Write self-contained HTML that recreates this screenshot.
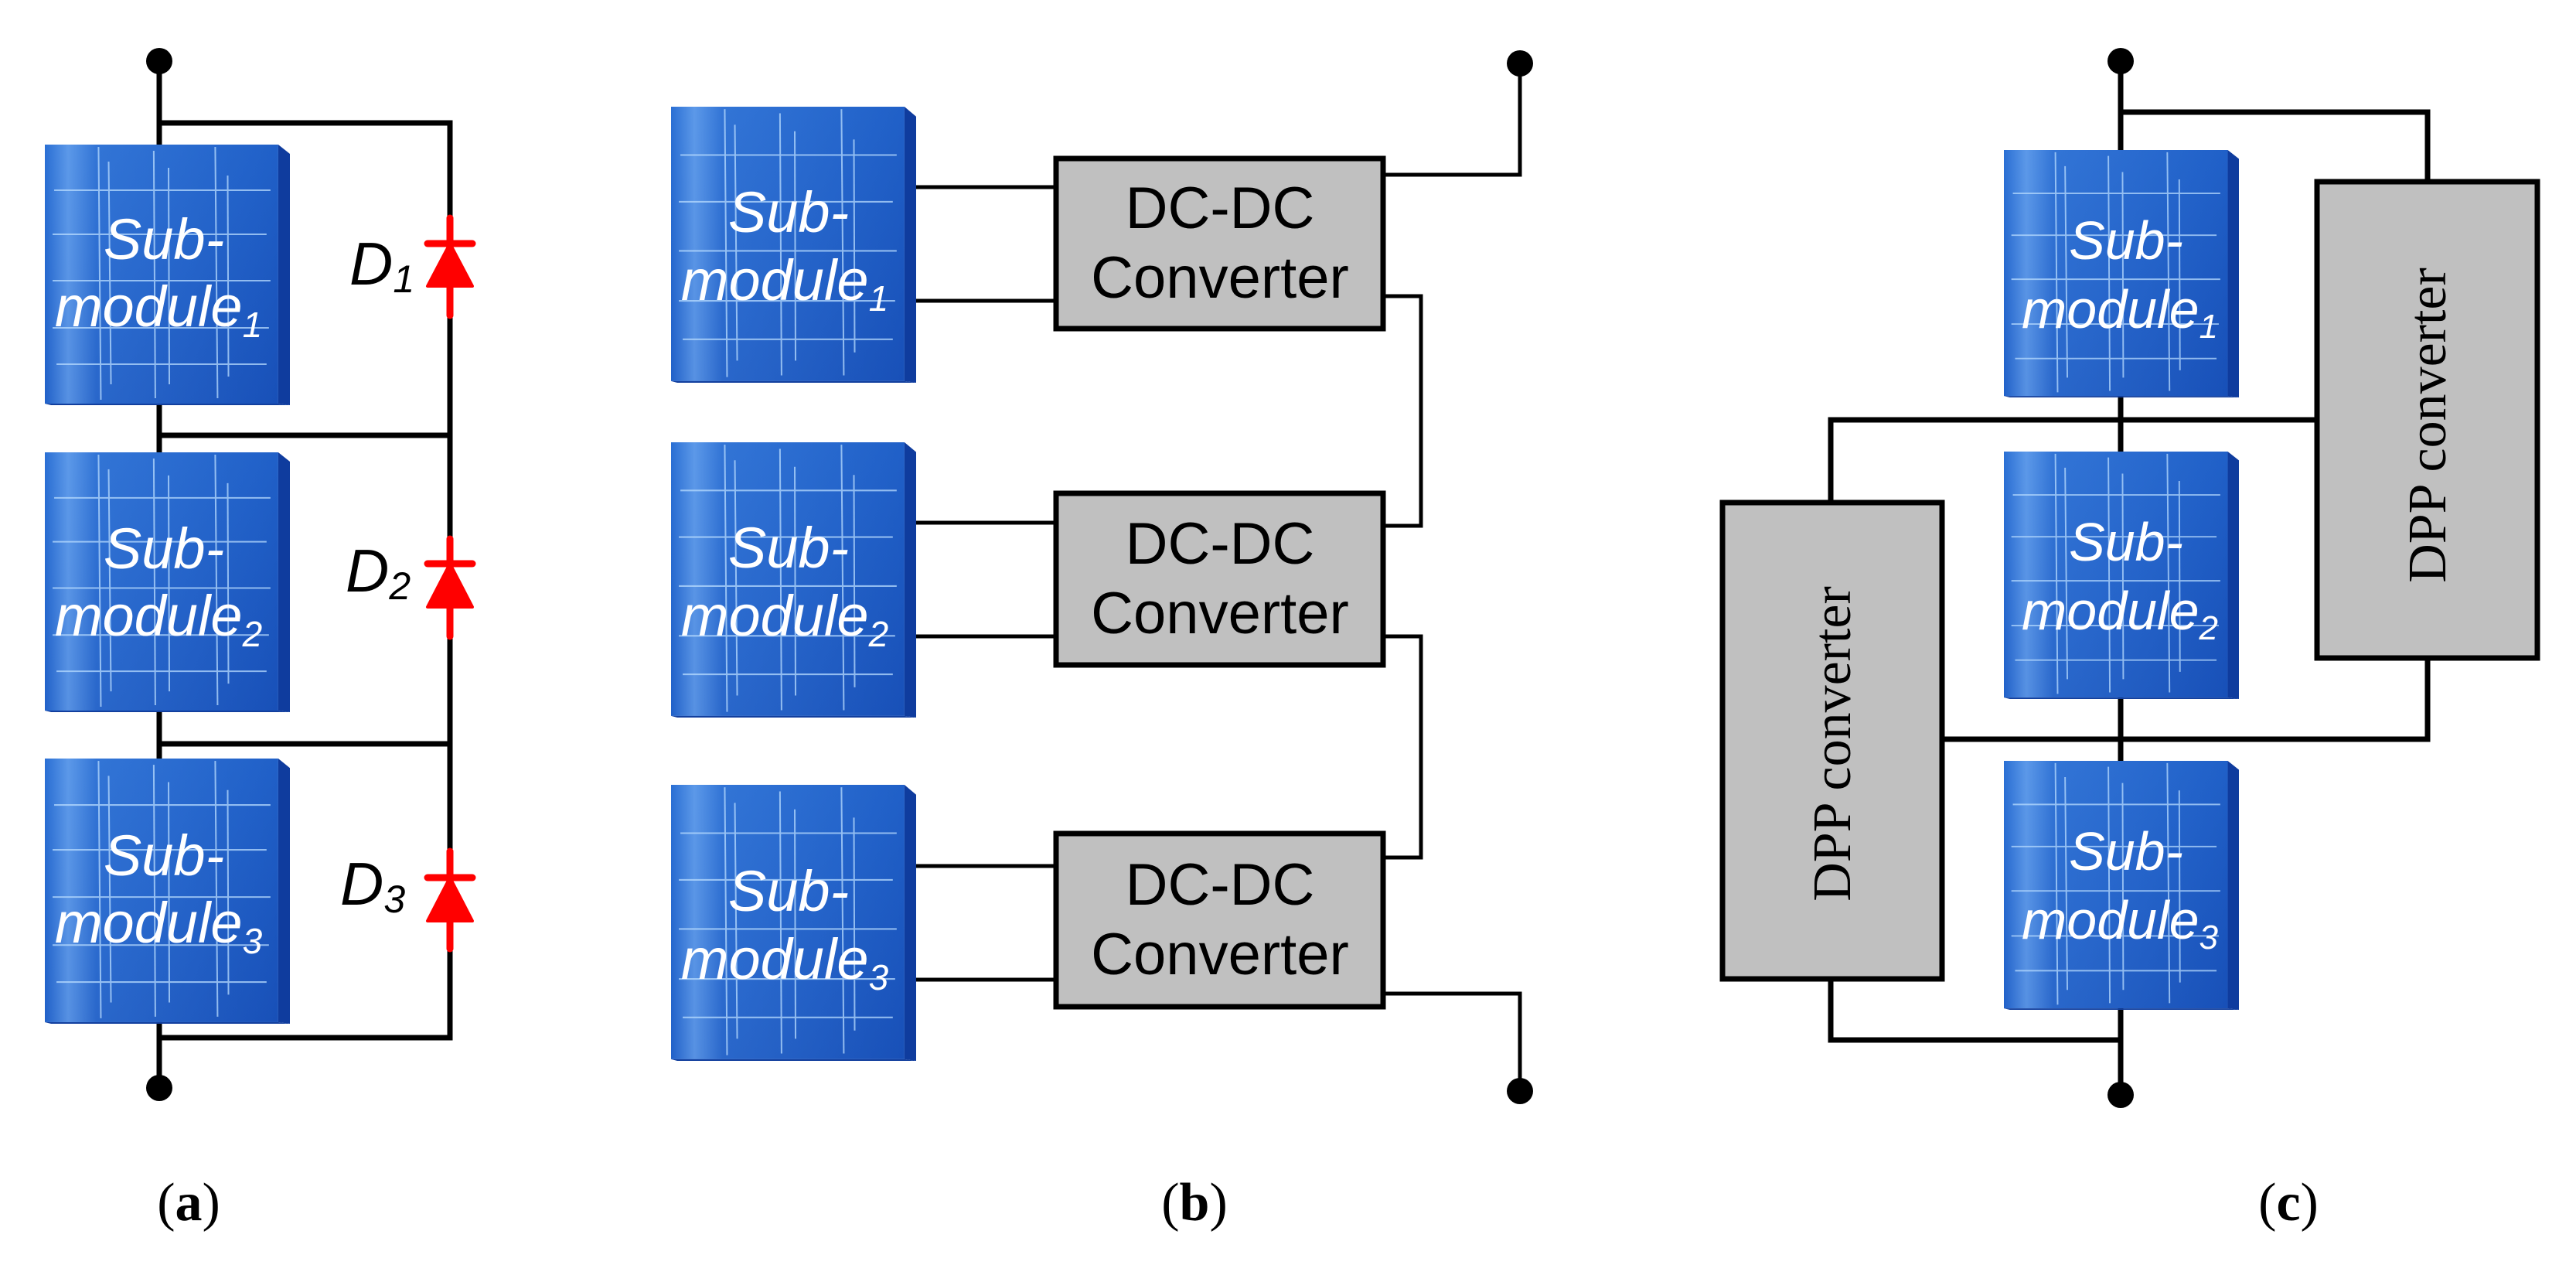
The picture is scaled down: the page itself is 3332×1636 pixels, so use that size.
<!DOCTYPE html>
<html><head><meta charset="utf-8"><style>
html,body{margin:0;padding:0;background:#fff;width:3332px;height:1636px;overflow:hidden}
</style></head><body>
<svg width="3332" height="1636" viewBox="0 0 3332 1636" xmlns="http://www.w3.org/2000/svg">
<defs>
<linearGradient id="bg" x1="0" y1="0" x2="1" y2="1">
<stop offset="0" stop-color="#2a6fd4"/><stop offset="0.5" stop-color="#2060c8"/><stop offset="1" stop-color="#1850b8"/>
</linearGradient>
<linearGradient id="sh" x1="0" y1="0" x2="1" y2="0">
<stop offset="0" stop-color="#8fc4ff" stop-opacity="0.0"/><stop offset="0.1" stop-color="#8fc4ff" stop-opacity="0.5"/><stop offset="0.22" stop-color="#8fc4ff" stop-opacity="0.1"/><stop offset="1" stop-color="#8fc4ff" stop-opacity="0"/>
</linearGradient>
<symbol id="mod" viewBox="0 0 315 337" preserveAspectRatio="none">
<rect x="0" y="0" width="300" height="335" fill="url(#bg)"/>
<rect x="0" y="0" width="300" height="335" fill="url(#sh)"/>
<polygon points="300,0 315,12 315,337 300,335" fill="#0f3c9e"/>
<polygon points="0,335 300,335 315,337 8,337" fill="#123f9e"/>
<g stroke="#b8dcff" stroke-width="2" opacity="0.75">
<line x1="12" y1="59" x2="290" y2="59"/><line x1="10" y1="116" x2="285" y2="116"/>
<line x1="10" y1="176" x2="290" y2="176"/><line x1="10" y1="237" x2="288" y2="237"/>
<line x1="15" y1="284" x2="285" y2="284"/>
<line x1="69" y1="3" x2="72" y2="330"/><line x1="82" y1="22" x2="85" y2="310"/>
<line x1="140" y1="8" x2="142" y2="328"/><line x1="159" y1="30" x2="160" y2="310"/>
<line x1="219" y1="3" x2="222" y2="328"/><line x1="235" y1="40" x2="236" y2="300"/>
</g>
</symbol>
</defs>
<g font-family="'Liberation Sans', sans-serif" >
<!-- Panel a -->
<g stroke="#000" stroke-width="7" fill="none">
<line x1="206" y1="79" x2="206" y2="1407"/>
<polyline points="206,159 582,159 582,1342 206,1342"/>
<line x1="206" y1="563" x2="582" y2="563"/>
<line x1="206" y1="962" x2="582" y2="962"/>
</g>
<circle cx="206" cy="79" r="17"/><circle cx="206" cy="1407" r="17"/>
<use href="#mod" x="58" y="187" width="317" height="337"/>
<use href="#mod" x="58" y="585" width="317" height="336"/>
<use href="#mod" x="58" y="981" width="317" height="343"/>
<g fill="#fff" font-style="italic" font-size="74" text-anchor="middle">
<text x="212" y="335">Sub-</text><text x="205" y="422">module<tspan font-size="46" dy="14">1</tspan></text>
<text x="212" y="735">Sub-</text><text x="205" y="822">module<tspan font-size="46" dy="14">2</tspan></text>
<text x="212" y="1132">Sub-</text><text x="205" y="1219">module<tspan font-size="46" dy="14">3</tspan></text>
</g>
<g fill="#000" font-style="italic" font-size="78">
<text x="452" y="368">D<tspan font-size="50" dy="10">1</tspan></text>
<text x="447" y="765">D<tspan font-size="50" dy="10">2</tspan></text>
<text x="440" y="1170">D<tspan font-size="50" dy="10">3</tspan></text>
</g>
<g fill="#ff0000" stroke="#ff0000" stroke-linejoin="round" stroke-linecap="round">
<line x1="582" y1="282" x2="582" y2="408" stroke-width="9"/><line x1="553" y1="315" x2="611" y2="315" stroke-width="9"/><polygon points="582,315 553,370 611,370" stroke-width="4"/>
<line x1="582" y1="697" x2="582" y2="823" stroke-width="9"/><line x1="553" y1="729" x2="611" y2="729" stroke-width="9"/><polygon points="582,729 553,785 611,785" stroke-width="4"/>
<line x1="582" y1="1101" x2="582" y2="1227" stroke-width="9"/><line x1="553" y1="1135" x2="611" y2="1135" stroke-width="9"/><polygon points="582,1135 553,1191 611,1191" stroke-width="4"/>
</g>
<text x="244" y="1578" font-family="'Liberation Serif', serif" font-size="70" text-anchor="middle">(<tspan font-weight="bold">a</tspan>)</text>

<!-- Panel b -->
<g stroke="#000" stroke-width="5" fill="none">
<line x1="1185" y1="242" x2="1364" y2="242"/><line x1="1185" y1="389" x2="1364" y2="389"/>
<line x1="1185" y1="676" x2="1364" y2="676"/><line x1="1185" y1="823" x2="1364" y2="823"/>
<line x1="1185" y1="1120" x2="1364" y2="1120"/><line x1="1185" y1="1267" x2="1364" y2="1267"/>
<polyline points="1789,226 1966,226 1966,82"/>
<polyline points="1789,383 1838,383 1838,680 1789,680"/>
<polyline points="1789,823 1838,823 1838,1109 1789,1109"/>
<polyline points="1789,1285 1966,1285 1966,1411"/>
</g>
<circle cx="1966" cy="82" r="17"/><circle cx="1966" cy="1411" r="17"/>
<use href="#mod" x="868" y="138" width="317" height="357"/>
<use href="#mod" x="868" y="572" width="317" height="356"/>
<use href="#mod" x="868" y="1015" width="317" height="357"/>
<g fill="#fff" font-style="italic" font-size="74" text-anchor="middle">
<text x="1020" y="300">Sub-</text><text x="1015" y="388">module<tspan font-size="46" dy="14">1</tspan></text>
<text x="1020" y="734">Sub-</text><text x="1015" y="822">module<tspan font-size="46" dy="14">2</tspan></text>
<text x="1020" y="1178">Sub-</text><text x="1015" y="1266">module<tspan font-size="46" dy="14">3</tspan></text>
</g>
<g fill="#c0c0c0" stroke="#000" stroke-width="7">
<rect x="1366" y="205" width="423" height="220"/>
<rect x="1366" y="638" width="423" height="222"/>
<rect x="1366" y="1078" width="423" height="224"/>
</g>
<g fill="#000" font-size="76" text-anchor="middle">
<text x="1578" y="295">DC-DC</text><text x="1578" y="385">Converter</text>
<text x="1578" y="729">DC-DC</text><text x="1578" y="819">Converter</text>
<text x="1578" y="1170">DC-DC</text><text x="1578" y="1260">Converter</text>
</g>
<text x="1545" y="1578" font-family="'Liberation Serif', serif" font-size="70" text-anchor="middle">(<tspan font-weight="bold">b</tspan>)</text>

<!-- Panel c -->
<g stroke="#000" stroke-width="7" fill="none">
<line x1="2743" y1="79" x2="2743" y2="1416"/>
<polyline points="2743,145 3140,145 3140,233"/>
<polyline points="2995,543 2368,543 2368,648"/>
<polyline points="2512,956 3140,956 3140,852"/>
<polyline points="2368,1267 2368,1345 2743,1345"/>
</g>
<circle cx="2743" cy="79" r="17"/><circle cx="2743" cy="1416" r="17"/>
<use href="#mod" x="2592" y="194" width="304" height="320"/>
<use href="#mod" x="2592" y="584" width="304" height="320"/>
<use href="#mod" x="2592" y="984" width="304" height="322"/>
<g fill="#fff" font-style="italic" font-size="70" text-anchor="middle">
<text x="2750" y="335">Sub-</text><text x="2742" y="424">module<tspan font-size="44" dy="13">1</tspan></text>
<text x="2750" y="725">Sub-</text><text x="2742" y="814">module<tspan font-size="44" dy="13">2</tspan></text>
<text x="2750" y="1125">Sub-</text><text x="2742" y="1214">module<tspan font-size="44" dy="13">3</tspan></text>
</g>
<g fill="#c0c0c0" stroke="#000" stroke-width="7">
<rect x="2997" y="235" width="285" height="616"/>
<rect x="2228" y="650" width="284" height="616"/>
</g>
<g fill="#000" font-family="'Liberation Serif', serif" font-size="70" text-anchor="middle">
<text transform="translate(3163,550) rotate(-90)">DPP converter</text>
<text transform="translate(2393,962) rotate(-90)">DPP converter</text>
</g>
<text x="2960" y="1578" font-family="'Liberation Serif', serif" font-size="70" text-anchor="middle">(<tspan font-weight="bold">c</tspan>)</text>
</g>
</svg>
</body></html>
